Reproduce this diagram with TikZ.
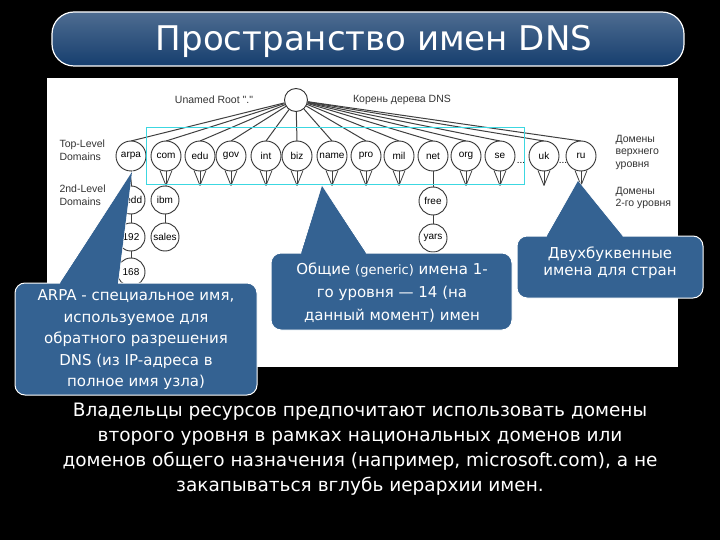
\documentclass[tikz,border=0pt]{standalone}
\usepackage{fontspec}
\setmainfont{DejaVu Sans}
\newfontfamily\treefont{Liberation Sans}
\begin{document}
\begin{tikzpicture}[x=1pt,y=-1pt,
  tnode/.style={circle,draw=black!80,line width=0.9pt,fill=white,minimum size=30pt,inner sep=0pt,font=\treefont\fontsize{10}{11}\selectfont},
  snode/.style={circle,draw=black!80,line width=0.9pt,fill=white,minimum size=28pt,inner sep=0pt,font=\treefont\fontsize{10}{11}\selectfont},
  edge/.style={draw=black!75,line width=1pt},
  lab/.style={font=\treefont\fontsize{10.5}{12.5}\selectfont,align=left,text=black!80},
  callout/.style={fill=calfill,draw=white,line width=1pt,rounded corners=10pt},
  ctext/.style={text=white,align=center,font=\fontsize{15}{21.5}\selectfont}]
\definecolor{calfill}{RGB}{52,98,146}
\definecolor{titlefill}{RGB}{22,62,110}
\definecolor{cyanbox}{RGB}{60,215,225}
\fill[black] (0,0) rectangle (720,540);
\useasboundingbox (0,0) rectangle (720,540);
% title
\node[draw=white,line width=1.2pt,rounded corners=22pt,top color=titlefill!70!white!80!titlefill,bottom color=titlefill,minimum width=632pt,minimum height=54pt] (title) at (368,39) {};
\node[text=white,font=\fontsize{34}{36}\selectfont] (ttext) at (374,41) {Пространство имен DNS};
% panel
\fill[white] (47,78) rectangle (678,367);
% root
\node[circle,draw=black!80,line width=0.9pt,fill=white,minimum size=23pt] (root) at (296,100) {};
\node[lab] (rl) at (214,100) {Unamed Root "."};
\node[lab] (rr) at (402,100) {Корень дерева DNS};
% TLDs
\foreach \n/\x in {arpa/131,com/166,edu/200,gov/231,int/266,biz/297,name/332,pro/366,mil/399,net/433,org/466,se/500,uk/544,ru/581}{
  \draw[edge] (root) -- (\x,141);
}
\foreach \n/\x in {arpa/131,com/166,edu/200,gov/231,int/266,biz/297,name/332,pro/366,mil/399,net/433,org/466,se/500,uk/544,ru/581}{
  \node[tnode] (\n) at (\x,156) {\n};
}
\foreach \n in {com,edu,gov,int,biz,name,pro,mil,org,se,uk,ru}{
  \draw[edge,line width=0.8pt] ([yshift=-14pt]\n.south) -- (\n.south);
  \draw[edge,line width=0.8pt] ([yshift=-14pt]\n.south) -- ([xshift=-6pt,yshift=1pt]\n.south);
  \draw[edge,line width=0.8pt] ([yshift=-14pt]\n.south) -- ([xshift=6pt,yshift=1pt]\n.south);
}
\node[font=\treefont\fontsize{10}{10}\selectfont] (d1) at (521,163) {...};
\node[font=\treefont\fontsize{10}{10}\selectfont] (d2) at (563,163) {...};
% second level
\node[snode] (nedd) at (131,200) {nedd};
\node[snode] (ibm) at (165,200) {ibm};
\node[snode] (n192) at (131,237) {192};
\node[snode] (sales) at (165,237) {sales};
\node[snode] (n168) at (131,272) {168};
\node[snode] (free) at (433,201) {free};
\node[snode] (yars) at (433,238) {yars};
\draw[edge] (arpa) -- (nedd);
\draw[edge] (nedd) -- (n192);
\draw[edge] (n192) -- (n168);
\draw[edge] (ibm) -- (sales);
\draw[edge] (net) -- (free);
\draw[edge] (free) -- (yars);
% cyan rectangle
\draw[cyanbox,line width=1pt] (146,128) rectangle (524,185);
% side labels
\node[lab,anchor=west] (tl) at (56,150) {Top-Level\\Domains};
\node[lab,anchor=west] (sl) at (56,195) {2nd-Level\\Domains};
\node[lab,anchor=west] (rt) at (612,152) {Домены\\верхнего\\уровня};
\node[lab,anchor=west] (rs) at (612,198) {Домены\\2-го уровня};
% callout 1
\coordinate (p1) at (132,172);
\draw[fill=calfill,draw=white,line width=1pt] (p1) -- (118,285) -- (58,285) -- cycle;
\draw[callout] (15,283) rectangle (257,395);
\fill[calfill] (p1) -- (117.5,286) -- (58.5,286) -- cycle;
\node[ctext] (c1) at (136,340) {ARPA - специальное имя,\\используемое для\\обратного разрешения\\DNS (из IP-адреса в\\полное имя узла)};
% callout 2
\coordinate (p2) at (322,186);
\draw[fill=calfill,draw=white,line width=1pt] (p2) -- (368,255) -- (300,255) -- cycle;
\draw[callout] (271,253) rectangle (512,330);
\fill[calfill] (p2) -- (367.5,256) -- (300.5,256) -- cycle;
\node[ctext,font=\fontsize{15}{23}\selectfont] (c2) at (392,293) {Общие {\fontsize{13}{23}\selectfont(generic)} имена 1-\\го уровня — 14 (на\\данный момент) имен};
% callout 3
\coordinate (p3) at (578,181);
\draw[fill=calfill,draw=white,line width=1pt] (p3) -- (625,238) -- (545,238) -- cycle;
\draw[callout] (517,236) rectangle (703,298);
\fill[calfill] (p3) -- (624.5,239) -- (545.5,239) -- cycle;
\node[ctext,font=\fontsize{15}{17}\selectfont] (c3) at (610,263) {Двухбуквенные\\имена для стран};
% bottom text
\node[text=white,align=center,font=\fontsize{18.5}{25}\selectfont] (bt) at (360,449) {Владельцы ресурсов предпочитают использовать домены\\второго уровня в рамках национальных доменов или\\доменов общего назначения (например, microsoft.com), а не\\закапываться вглубь иерархии имен.};
\end{tikzpicture}
\end{document}
